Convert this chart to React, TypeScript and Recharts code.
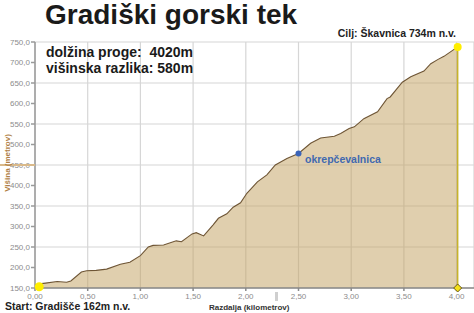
import { AreaChart, Area, XAxis, YAxis, CartesianGrid, ReferenceDot, ReferenceLine } from 'recharts';

// distance along the course (km) and elevation (m)
const distances = [
  0, 0.04, 0.1, 0.21, 0.3, 0.34, 0.44, 0.49, 0.58, 0.68, 0.81, 0.9, 1.0, 1.075, 1.12, 1.22,
  1.34, 1.39, 1.49, 1.53, 1.6, 1.69, 1.74, 1.82, 1.88, 1.95, 2.01, 2.11, 2.2, 2.28, 2.39,
  2.5, 2.615, 2.71, 2.84, 2.9, 2.98, 3.03, 3.12, 3.25, 3.34, 3.37, 3.485, 3.565, 3.69,
  3.755, 3.82, 3.88, 4.01,
];
const elevations = [
  157, 160, 162, 166, 164, 167, 189, 192, 193, 196, 208, 213, 229, 250, 254, 255,
  265, 263, 282, 285, 277, 304, 320, 331, 347, 358, 381, 409, 426, 450, 466,
  478, 503, 516, 520, 527, 539, 543, 563, 580, 612, 616, 652, 665, 679,
  697, 707, 715, 738,
];

const xTicks = [0, 0.5, 1, 1.5, 2, 2.5, 3, 3.5, 4];
const yTicks = [150, 200, 250, 300, 350, 400, 450, 500, 550, 600, 650, 700, 750];

const start = { km: 0.04, m: 153 };
const finish = { km: 4.01, m: 738 };
const aidStation = { km: 2.5, m: 478, name: 'okrepčevalnica' };

const data = distances.map((km, i) => ({ km, m: elevations[i] }));

const FONT = '"Liberation Sans", Arial, sans-serif';
const W = 474;
const H = 313;

const Diamond = (props: any) => {
  const { cx, cy } = props;
  return (
    <polygon
      points={`${cx},${cy - 4} ${cx + 4},${cy} ${cx},${cy + 4} ${cx - 4},${cy}`}
      fill="#f5e01a"
      stroke="#6b5a1a"
      strokeWidth={1}
    />
  );
};

export default function App() {
  return (
    <div style={{ position: 'absolute', left: 0, top: 0, width: W, height: H, background: '#fff', overflow: 'hidden' }}>
      <AreaChart width={W} height={H} data={data} margin={{ top: 42, right: 0, left: 0, bottom: 0 }}>
        <CartesianGrid stroke="#d6d6d6" strokeWidth={1.2} />
        <XAxis
          dataKey="km"
          type="number"
          domain={[0, 4.165]}
          ticks={xTicks}
          height={25}
          tickSize={3}
          tickMargin={2}
          tickFormatter={(v: number) => v.toFixed(2).replace('.', ',')}
          tick={{ fontSize: 8, fill: '#8c8c8c', fontFamily: FONT }}
          stroke="#8a8a8a"
          strokeWidth={1.5}
        />
        <YAxis
          type="number"
          domain={[150, 750]}
          ticks={yTicks}
          width={35}
          tickSize={4}
          tickMargin={1}
          tickFormatter={(v: number) => v.toFixed(1).replace('.', ',')}
          tick={{ fontSize: 8, fill: '#8c8c8c', fontFamily: FONT }}
          stroke="#9a9a9a"
          strokeWidth={1.5}
        />
        <Area
          type="linear"
          dataKey="m"
          baseValue={150}
          stroke="#6e5535"
          strokeWidth={1.1}
          fill="#c19f5d"
          fillOpacity={0.5}
          isAnimationActive={false}
        />
        <ReferenceLine
          segment={[{ x: finish.km, y: 150 }, { x: finish.km, y: finish.m }]}
          stroke="#c8b42a"
          strokeWidth={1.5}
        />
        <ReferenceDot x={start.km} y={start.m} r={4.5} fill="#ffee00" stroke="none" />
        <ReferenceDot x={finish.km} y={finish.m} r={4} fill="#ffee00" stroke="none" />
        <ReferenceDot x={finish.km} y={150} shape={Diamond} />
        <ReferenceDot x={aidStation.km} y={aidStation.m} r={3} fill="#3a63b8" stroke="none" />
      </AreaChart>

      <div style={{ position: 'absolute', left: 0, top: 164, width: 35, height: 1.5, background: '#d9b98a' }} />
      <div style={{ position: 'absolute', left: 275, top: 292, width: 3, height: 9, background: '#cfcfcf' }} />

      <svg width={W} height={H} style={{ position: 'absolute', left: 0, top: 0, pointerEvents: 'none' }}>
        <text x={45} y={24} fontFamily={FONT} fontWeight="bold" fontSize={28} fill="#1a1a1a">
          Gradiški gorski tek
        </text>
        <text x={46} y={57} fontFamily={FONT} fontWeight="bold" fontSize={14} fill="#1a1a1a" style={{ whiteSpace: 'pre' }}>
          dolžina proge:  4020m
        </text>
        <text x={46} y={72.5} fontFamily={FONT} fontWeight="bold" fontSize={14} fill="#1a1a1a">
          višinska razlika: 580m
        </text>
        <text x={456} y={37} textAnchor="end" fontFamily={FONT} fontWeight="bold" fontSize={10.5} fill="#222">
          Cilj: Škavnica 734m n.v.
        </text>
        <text x={5} y={309.5} fontFamily={FONT} fontWeight="bold" fontSize={10.5} fill="#222">
          Start: Gradišče 162m n.v.
        </text>
        <text x={209} y={309.5} fontFamily={FONT} fontWeight="bold" fontSize={8} fill="#333">
          Razdalja (kilometrov)
        </text>
        <text x={305} y={163} fontFamily={FONT} fontWeight="bold" fontSize={10.5} fill="#4169b0">
          {aidStation.name}
        </text>
        <text
          transform="translate(10,163) rotate(-90)"
          textAnchor="middle"
          fontFamily={FONT}
          fontWeight="bold"
          fontSize={8}
          fill="#b07f45"
        >
          Višina (metrov)
        </text>
      </svg>
    </div>
  );
}
